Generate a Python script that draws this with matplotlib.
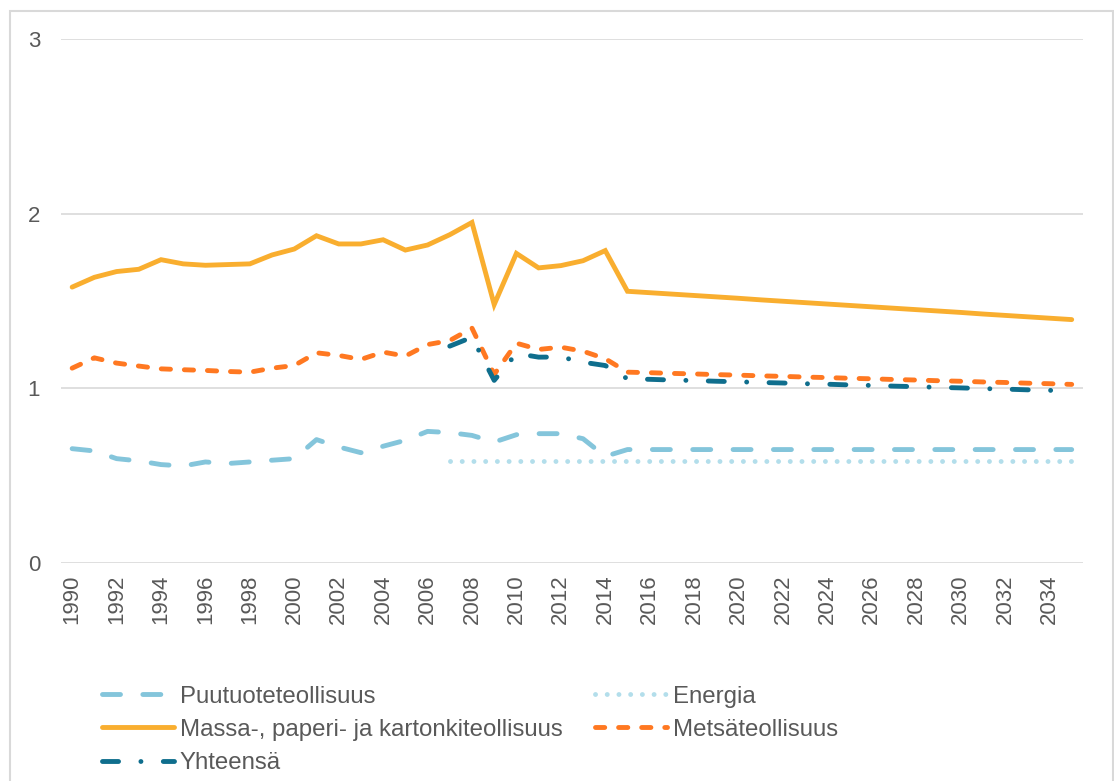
import numpy as np
import matplotlib.pyplot as plt
from matplotlib.patches import Rectangle

plt.rcParams['font.family'] = ['Liberation Sans', 'DejaVu Sans']

years = list(range(1990, 2036))

puutuote = [0.655, 0.642, 0.598, 0.585, 0.564, 0.556, 0.579, 0.570, 0.579, 0.589,
            0.598, 0.707, 0.665, 0.632, 0.669, 0.703, 0.754, 0.747, 0.731, 0.693,
            0.735, 0.741, 0.741, 0.712, 0.611, 0.650, 0.650, 0.650, 0.650, 0.650,
            0.650, 0.650, 0.650, 0.650, 0.650, 0.650, 0.650, 0.650, 0.650, 0.650,
            0.650, 0.650, 0.650, 0.650, 0.650, 0.650]
# Energia ja Yhteensä alkavat vuodesta 2007
energia_start = 2007
energia = [0.583] * 29
massa = [1.580, 1.636, 1.669, 1.682, 1.737, 1.713, 1.705, 1.709, 1.713, 1.764,
         1.798, 1.874, 1.827, 1.827, 1.851, 1.792, 1.821, 1.880, 1.950, 1.480,
         1.773, 1.690, 1.703, 1.731, 1.789, 1.556, 1.548, 1.540, 1.532, 1.524,
         1.516, 1.507, 1.499, 1.491, 1.483, 1.475, 1.467, 1.459, 1.451, 1.443,
         1.435, 1.426, 1.418, 1.410, 1.402, 1.394]
metsa = [1.116, 1.175, 1.145, 1.128, 1.112, 1.107, 1.103, 1.097, 1.093, 1.116,
         1.131, 1.204, 1.189, 1.166, 1.208, 1.185, 1.251, 1.274, 1.345, 1.080,
         1.259, 1.223, 1.236, 1.213, 1.170, 1.093, 1.090, 1.086, 1.083, 1.079,
         1.076, 1.072, 1.069, 1.065, 1.062, 1.058, 1.055, 1.051, 1.048, 1.044,
         1.041, 1.037, 1.034, 1.030, 1.027, 1.023]
yhteensa_start = 2007
yhteensa = [1.242, 1.293, 1.046, 1.200, 1.179, 1.180, 1.150, 1.131, 1.055, 1.052,
            1.048, 1.045, 1.041, 1.038, 1.034, 1.031, 1.027, 1.024, 1.020, 1.017,
            1.013, 1.010, 1.006, 1.003, 0.999, 0.996, 0.992, 0.989, 0.985]

x = np.arange(len(years))
x_energia = x[years.index(energia_start):]
x_yht = x[years.index(yhteensa_start):]

fig = plt.figure(figsize=(11.14, 7.81), dpi=100)
ax = fig.add_axes([0.0548, 0.279, 0.9172, 0.671])

lw = 3.5
l1, = ax.plot(x, puutuote, color='#84C5DB', lw=lw, ls=(0, (3.7, 4.6)),
              dash_capstyle='round', label='Puutuoteteollisuus')
l2, = ax.plot(x_energia, energia, color='#B3DEEB', lw=lw, ls=(0, (0.01, 2.4)),
              dash_capstyle='round', label='Energia')
l3, = ax.plot(x, massa, color='#F9AE2F', lw=lw, solid_capstyle='round',
              solid_joinstyle='miter', label='Massa-, paperi- ja kartonkiteollisuus')
l4, = ax.plot(x, metsa, color='#FF7821', lw=lw, ls=(0, (1.9, 2.85)),
              dash_capstyle='round', label='Metsäteollisuus')
l5, = ax.plot(x_yht, yhteensa, color='#0F6E8D', lw=lw, ls=(0, (3.3, 4.6, 0.01, 4.6)),
              dash_capstyle='round', label='Yhteensä')

ax.set_xlim(-0.5, len(years) - 0.5)
ax.set_ylim(0, 3)
ax.set_yticks([0, 1, 2, 3])
ax.set_xticks(x[::2])
ax.set_xticklabels([str(y) for y in years[::2]], rotation=90)
ax.tick_params(axis='both', length=0, labelsize=16, colors='#595959')
ax.tick_params(axis='y', pad=15)
ax.tick_params(axis='x', pad=8)
ax.grid(axis='y', color='#D9D9D9', lw=1.2)
ax.set_axisbelow(True)
for s in ax.spines.values():
    s.set_visible(False)

leg = fig.legend([l1, l3, l5, l2, l4],
                 [l1.get_label(), l3.get_label(), l5.get_label(), l2.get_label(), l4.get_label()],
                 ncol=2, loc='upper left', bbox_to_anchor=(92 / 1114, 1 - 676 / 781),
                 frameon=False, fontsize=17.3, handlelength=3.0, handletextpad=0.25,
                 columnspacing=1.35, labelspacing=0.47, borderaxespad=0)
for t in leg.get_texts():
    t.set_color('#595959')

# kehys kuvan ympärillä
fig.patches.append(Rectangle((9.5 / 1114, -0.02), (1113 - 9.5) / 1114, 1.02 - 11 / 781,
                             transform=fig.transFigure, fill=False,
                             edgecolor='#D9D9D9', lw=1.5))

fig.savefig('out.png', dpi=100)
